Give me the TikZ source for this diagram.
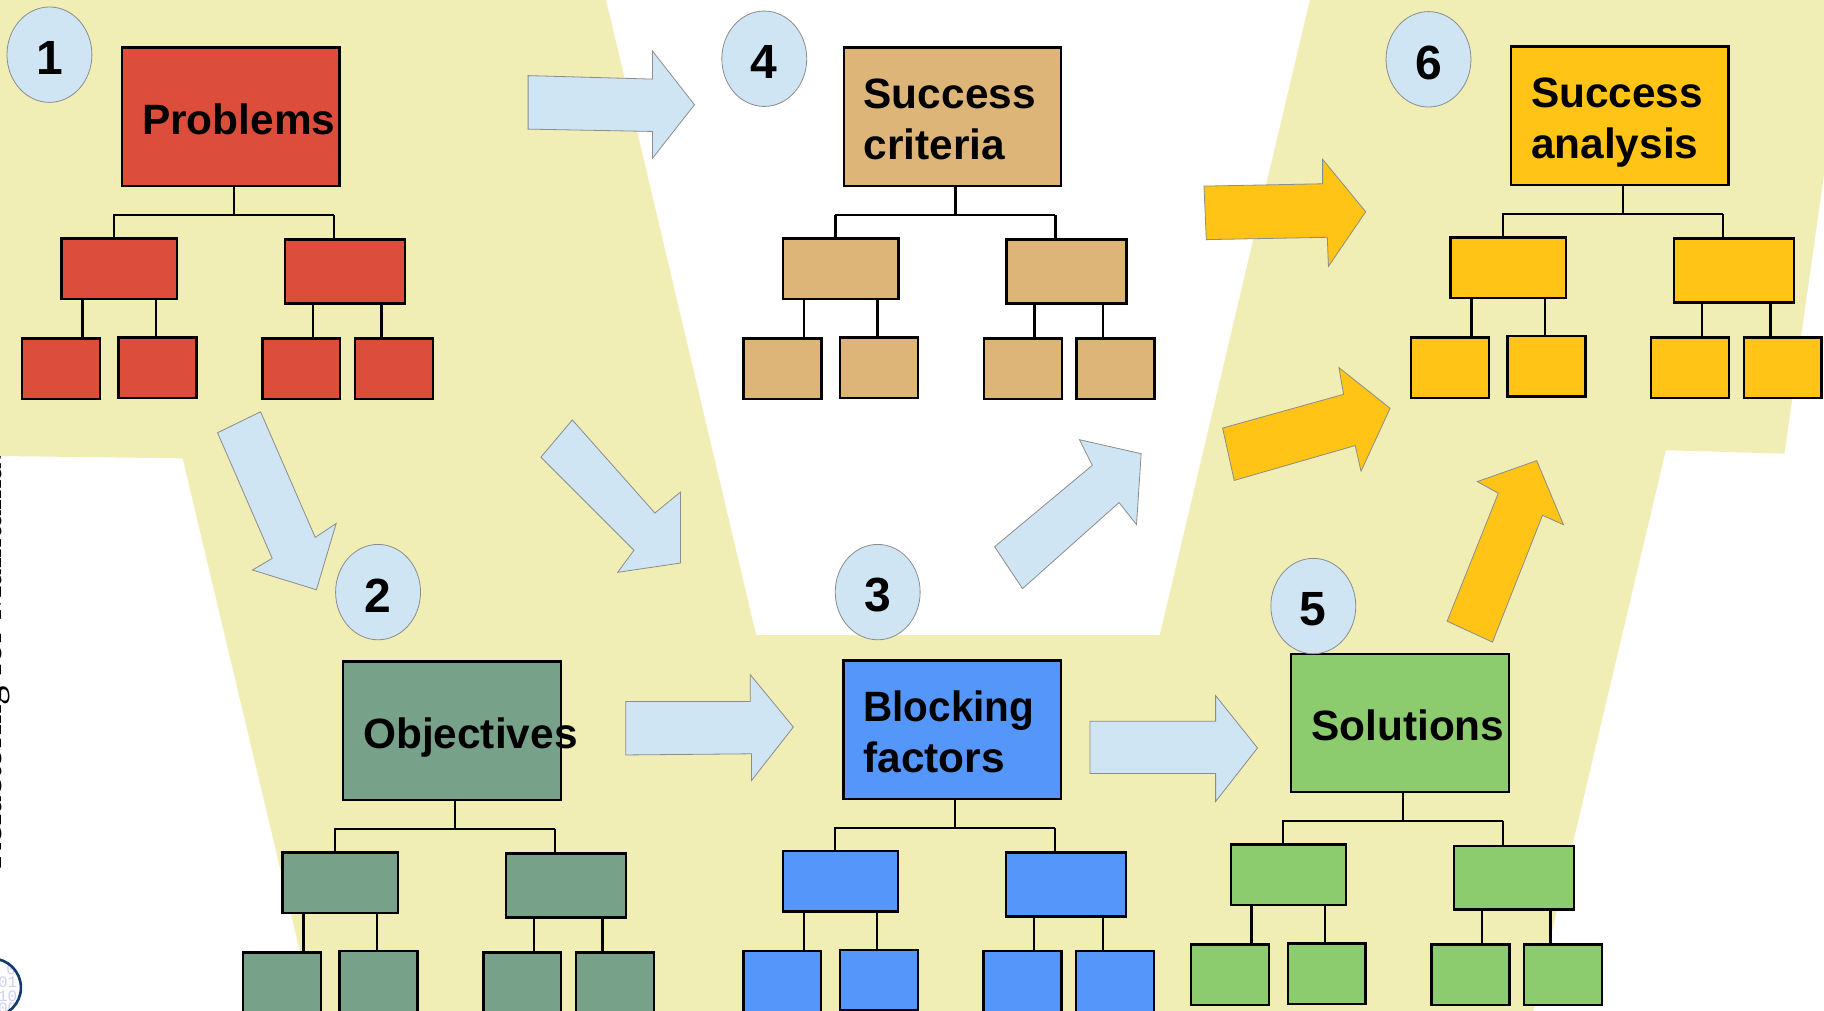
\documentclass[tikz,border=0pt]{standalone}
\usepackage{fontspec}
\setmainfont{Liberation Sans}
\newfontfamily\serifside{Liberation Serif}
\newfontfamily\monolabel{Liberation Mono}
\usetikzlibrary{shapes.geometric}
\def\px{1.1633pt}
\definecolor{bgyellow}{HTML}{F0EDB5}
\definecolor{lightblue}{HTML}{CFE5F4}
\definecolor{redbox}{HTML}{DC4E3B}
\definecolor{tanbox}{HTML}{DEB578}
\definecolor{goldbox}{HTML}{FFC416}
\definecolor{sagebox}{HTML}{78A18A}
\definecolor{bluebox}{HTML}{5596FB}
\definecolor{greenbox}{HTML}{8DCB6F}
\definecolor{navyring}{HTML}{123A6B}
\definecolor{lavdigit}{HTML}{CFCFF2}
\tikzset{
  basebox/.style={rectangle,draw=black,line width=2.4pt,inner sep=0pt,outer sep=0pt},
  bigbox/.style={basebox,minimum width=187*\px,minimum height=119*\px},
  midl/.style={basebox,minimum width=99*\px,minimum height=52*\px},
  midr/.style={basebox,minimum width=103*\px,minimum height=55*\px},
  leafbox/.style={basebox,minimum width=67*\px,minimum height=52*\px},
  conn/.style={draw=black,line width=2.4pt,line cap=butt},
  boxlabel/.style={anchor=west,align=left,inner sep=0pt,font=\fontsize{42.4}{51}\selectfont\bfseries},
  numblob/.style={ellipse,draw=black!45,line width=0.8pt,fill=lightblue,minimum width=73*\px,minimum height=82*\px,inner sep=0pt,font=\fontsize{48}{48}\selectfont\bfseries},
  blockarrow/.style={draw=black!45,line width=0.8pt,line join=miter},
  bindigit/.style={anchor=east,inner sep=0pt,text=lavdigit,font=\monolabel\fontsize{16}{16}\selectfont},
}
\newcommand{\num}[1]{\raisebox{-3.2pt}[\height][\depth]{#1}}
\newcommand{\hier}[5]{%
\begin{scope}[shift={(#2,#3)}]
  \node[bigbox,fill=#4] (#1m) at (198.5,100.5) {};
  \node[boxlabel] (#1t) at ([xshift=17*\px,yshift=-6.3*\px]#1m.west) {#5};
  \node[midl,fill=#4] (#1l) at (102.5,231) {};
  \node[midr,fill=#4] (#1r) at (296.5,233.5) {};
  \node[leafbox,fill=#4] (#1a) at (52.5,317) {};
  \node[leafbox,fill=#4] (#1b) at (135.5,316) {};
  \node[leafbox,fill=#4] (#1c) at (259,317) {};
  \node[leafbox,fill=#4] (#1d) at (338.5,317) {};
  \coordinate (#1bl) at (98,185);
  \coordinate (#1bm) at (201,185);
  \coordinate (#1br) at (287,185);
  \draw[conn] (#1m.south -| #1bm) -- (#1bm);
  \draw[conn] ([xshift=-1pt]#1bl) -- (#1br);
  \draw[conn] (#1bl) -- (#1bl |- #1l.north);
  \draw[conn] (#1br) -- (#1br |- #1r.north);
  \draw[conn] ([xshift=18.5*\px]#1a.north) -- ([xshift=18.5*\px]#1a.north |- #1l.south);
  \draw[conn] ([xshift=-1.5*\px]#1b.north) -- ([xshift=-1.5*\px]#1b.north |- #1l.south);
  \draw[conn] ([xshift=10*\px]#1c.north) -- ([xshift=10*\px]#1c.north |- #1r.south);
  \draw[conn] ([xshift=-10.5*\px]#1d.north) -- ([xshift=-10.5*\px]#1d.north |- #1r.south);
\end{scope}}
\begin{document}
\begin{tikzpicture}[x=\px,y=-\px]
\useasboundingbox (0,0) rectangle (1568,869);
\clip (0,0) rectangle (1568,869);
\fill[white] (0,0) rectangle (1568,869);
% clipped side text and logo
\node[rotate=90,anchor=base west,inner sep=0pt,font=\serifside\fontsize{39}{39}\selectfont] (sidetext) at (1.4,748) {Refactoring for Maintainable};
\begin{scope}
  \path[clip] (-7,848) circle (25);
  \node[bindigit] (binA) at (14,833) {0};
  \node[bindigit] (binB) at (15,844) {01};
  \node[bindigit] (binC) at (15,856) {10};
  \node[bindigit] (binD) at (15,867) {00};
\end{scope}
\draw[navyring,line width=2.6pt] (-7,849) circle (25);
% background band
\fill[bgyellow] (0,0) -- (521,0) -- (650,546) -- (997,546) -- (1126,0) -- (1568,0) -- (1568,150) -- (1534,390) -- (1432,387) -- (1318,869) -- (270,869) -- (157,394) -- (0,392) -- cycle;
% hierarchies
\hier{pr}{0}{0}{redbox}{Problems\strut}
\hier{sc}{620.3}{0}{tanbox}{Success\strut\\criteria\strut}
\hier{sa}{1194}{-1}{goldbox}{Success\strut\\analysis\strut}
\hier{ob}{190}{527.7}{sagebox}{Objectives\strut}
\hier{bf}{620}{526.7}{bluebox}{\scalebox{0.955}[1]{Blocking}\strut\\factors\strut}
\hier{so}{1005}{521}{greenbox}{Solutions\strut}
% blue arrows
\filldraw[blockarrow,fill=lightblue] (454,65) -- (561,68) -- (561,44) -- (597,90) -- (561,136) -- (561,113) -- (454,111) -- cycle;
\filldraw[blockarrow,fill=lightblue] (187,372) -- (224,354) -- (271,462) -- (289,450) -- (272,507) -- (217,490) -- (234,480) -- cycle;
\filldraw[blockarrow,fill=lightblue] (465,393) -- (492,361) -- (563,441) -- (585,423) -- (585,484) -- (531,492) -- (545,473) -- cycle;
\filldraw[blockarrow,fill=lightblue] (855,470) -- (939,400) -- (928,378) -- (981,390) -- (977,451) -- (962,432) -- (879,506) -- cycle;
\filldraw[blockarrow,fill=lightblue] (538,603) -- (645,603) -- (645,580) -- (682,625) -- (646,671) -- (646,648) -- (538,649) -- cycle;
\filldraw[blockarrow,fill=lightblue] (937,620) -- (1045,620) -- (1045,598) -- (1081,643) -- (1045,689) -- (1045,665) -- (937,665) -- cycle;
% gold arrows
\filldraw[blockarrow,fill=goldbox] (1035,160) -- (1137,158) -- (1137,137) -- (1174,182) -- (1142,229) -- (1141,204) -- (1037,206) -- cycle;
\filldraw[blockarrow,fill=goldbox] (1051,368) -- (1155,339) -- (1151,316) -- (1195,351) -- (1170,405) -- (1165,383) -- (1061,413) -- cycle;
\filldraw[blockarrow,fill=goldbox] (1244,534) -- (1283,552) -- (1326,443) -- (1344,451) -- (1321,396) -- (1270,414) -- (1288,424) -- cycle;
% number ellipses
\node[numblob] (n1) at (42.5,47) {\num{1}};
\node[numblob] (n2) at (325,509) {\num{2}};
\node[numblob] (n3) at (754.5,509) {\num{3}};
\node[numblob] (n4) at (657,50.5) {\num{4}};
\node[numblob] (n5) at (1129,521) {\num{5}};
\node[numblob] (n6) at (1228,51) {\num{6}};
\end{tikzpicture}
\end{document}
